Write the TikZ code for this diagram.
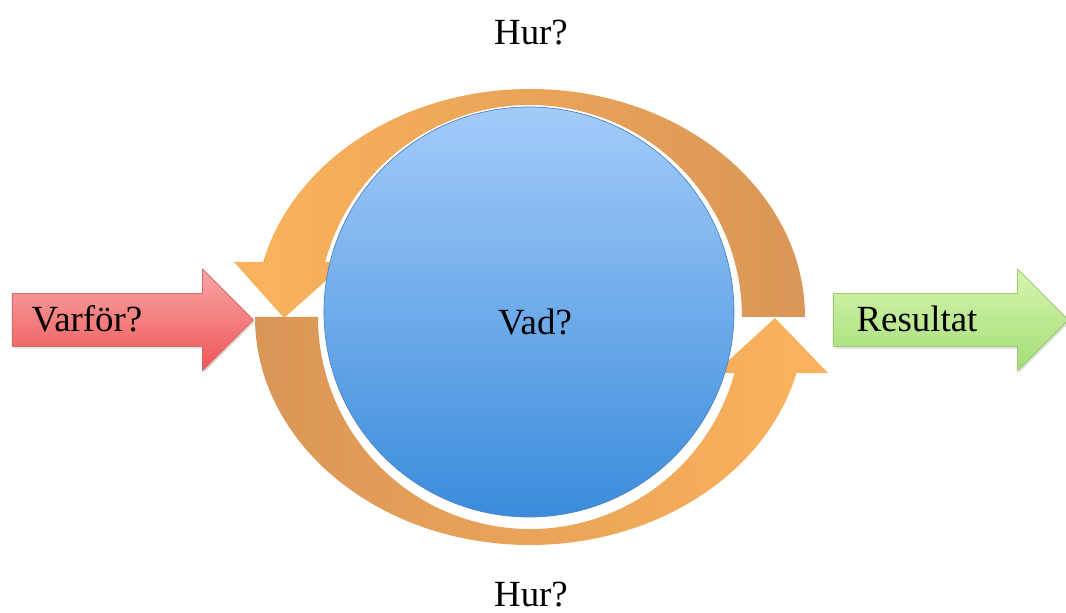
\documentclass[tikz,border=0pt]{standalone}
\usepackage{fontspec}
\setmainfont{Liberation Serif}
\usetikzlibrary{shapes.arrows,shadows}
\definecolor{blueTop}{HTML}{A3CBF9}
\definecolor{blueBot}{HTML}{3A8CDB}
\definecolor{blueEdge}{HTML}{4F82C4}
\definecolor{orBright}{HTML}{F39D2D}
\definecolor{orLight}{HTML}{FAB35C}
\definecolor{orDark}{HTML}{DA9657}
\definecolor{redTop}{HTML}{F9A6A6}
\definecolor{redBot}{HTML}{EE5656}
\definecolor{redEdge}{HTML}{D56B6B}
\definecolor{grnTop}{HTML}{D6F6B0}
\definecolor{grnBot}{HTML}{A4DC76}
\definecolor{grnEdge}{HTML}{9CCB72}
\tikzset{
	bigarrow/.style={single arrow, anchor=tail, inner xsep=0pt, inner ysep=0.52cm,
		text height=0pt, text depth=0pt, single arrow tip angle=90,
		single arrow head extend=0.49cm, line width=0.5pt,
		drop shadow={opacity=0.25,shadow xshift=0.8pt,shadow yshift=-1.2pt}},
	word/.style={anchor=base, inner sep=0pt}
}
\begin{document}
\begin{tikzpicture}[scale=0.02, >=stealth, font=\fontsize{21}{25}\selectfont, line join=round, line cap=round]
	\useasboundingbox (-530,-296) rectangle (536,317);
	\coordinate (O) at (0,0);
	\coordinate (C) at (-1,5);
	\def\Ra{275}
	\def\Rb{228}
	\def\Ri{212}
	\def\Rc{205}
	\shade[left color=orLight, middle color=orBright, right color=orDark]
		(\Ra,0) arc[start angle=0, end angle=166.04, x radius=\Ra, y radius=\Rb]
		-- (-296,55) -- (-246,-1) -- (-183,55) -- (164.96:\Ri)
		arc[start angle=164.96, end angle=0, radius=\Ri] -- cycle;
	\shade[left color=orDark, middle color=orBright, right color=orLight]
		(-\Ra,0) arc[start angle=180, end angle=345.78, x radius=\Ra, y radius=\Rb]
		-- (298,-56) -- (245,-1) -- (185,-56) -- (-15.32:\Ri)
		arc[start angle=-15.32, end angle=-180, radius=\Ri] -- cycle;
	\draw[blueEdge, line width=0.4pt, top color=blueTop, bottom color=blueBot] (C) circle[radius=\Rc];
	\node[bigarrow, draw=redEdge, top color=redTop, bottom color=redBot, minimum height=4.82cm] (why) at (-518,-3) {};
	\node[bigarrow, draw=grnEdge, top color=grnTop, bottom color=grnBot, minimum height=4.7cm] (out) at (303,-3) {};
	\node[word] (vad) at (5,-18) {Vad?};
	\node[word] (varfor) at (-443,-15) {Varför?};
	\node[word] (res) at (387,-15) {Resultat};
	\node[word] (hurtop) at (1,272) {Hur?};
	\node[word] (hurbot) at (1,-290) {Hur?};
\end{tikzpicture}
\end{document}
